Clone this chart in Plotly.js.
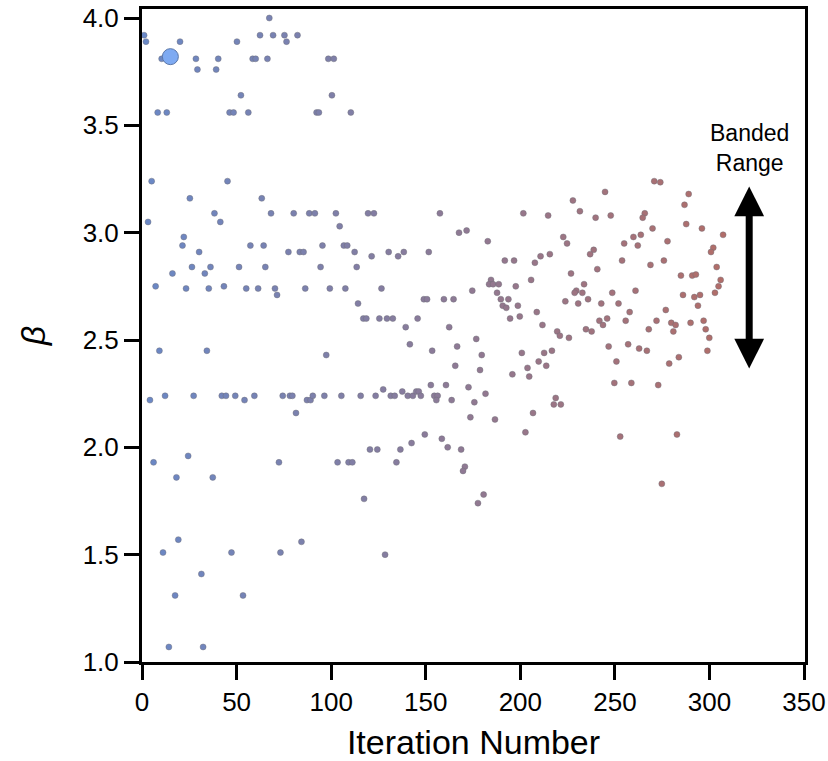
<!DOCTYPE html>
<html>
<head>
<meta charset="utf-8">
<script src="https://cdn.plot.ly/plotly-3.0.1.min.js"></script>
<style>html,body{margin:0;padding:0;background:#fff;}#chart{width:828px;height:761px;}</style>
</head>
<body>
<div id="chart"></div>
<script>
// Iteration number of each sampled point
var iteration = [
 1.1,2.1,10.4,20.1,28.5,29.3,40.3,39.2,50.2,52.3,58.5,60.1,66.3,62.4,67.3,69.3,75.3,76.4,82.2,
 8.3,13.1,46.3,48.4,56.2,5.1,45.2,25.3,63.3,38.3,68.2,80.2,3.2,41.4,22.1,21.4,57.3,64.3,
 98.5,101.4,100.4,92.3,93.5,110.4,88.4,91.4,102.5,119.5,122.6,104.5,157.5,201.6,214.7,227.8,231.5,
 167.6,171.6,182.8,222.7,224.7,95.4,106.7,108.5,
 270.8,274.0,244.8,289.0,286.8,239.8,247.8,265.8,264.7,287.7,296.0,269.9,307.2,259.8,263.7,277.8,
 302.0,254.9,262.1,238.8,300.8,236.9,253.8,268.8,275.9,240.7,303.8,226.8,284.9,290.9,292.8,305.9,
 304.8,302.9,233.7,229.6,228.7,232.8,235.8,223.8,230.6,248.6,260.9,242.8,251.9,286.0,292.0,295.0,
 293.9,276.9,257.8,241.8,245.9,255.7,272.0,279.8,282.1,290.0,296.9,243.7,267.9,280.9,298.0,234.7,
 237.7,225.7,299.9,246.7,257.0,262.8,266.9,298.9,250.8,283.8,278.7,249.7,258.7,272.9,252.8,282.8,274.8,
 121.4,130.4,135.4,138.4,151.6,191.8,196.7,207.7,210.7,215.6,126.6,149.0,150.7,159.6,164.7,174.6,
 184.5,183.5,185.6,188.6,197.6,205.7,187.7,189.7,193.7,190.7,192.6,198.7,208.7,194.6,199.7,211.7,
 219.5,220.9,117.0,118.6,125.5,129.5,132.6,145.7,139.4,162.4,176.7,141.6,153.4,166.6,179.6,165.6,
 178.7,200.8,212.6,216.7,209.7,203.8,213.7,195.8,204.7,
 115.6,123.5,127.5,131.5,133.6,137.6,140.5,143.2,145.0,146.3,147.4,152.7,154.5,156.3,155.6,160.7,
 163.7,172.6,175.7,181.6,173.6,186.6,206.7,202.7,218.7,217.7,221.4,149.5,158.5,161.6,168.7,142.5,
 136.6,120.5,124.4,134.5,170.7,169.7,180.6,177.6,117.4,
 30.2,77.4,83.4,85.4,112.4,26.4,36.2,16.1,33.2,51.3,65.2,94.4,113.5,7.2,23.3,35.3,43.3,55.1,61.4,
 70.3,71.4,86.3,99.3,107.5,114.2,9.2,34.3,97.4,
 4.2,12.2,27.3,42.2,44.4,49.3,54.2,59.4,74.4,78.2,79.5,81.4,87.2,89.1,90.3,96.4,105.4,
 6.1,24.4,18.2,37.4,72.4,103.4,109.2,111.2,
 11.1,19.2,31.4,17.5,47.3,53.4,73.2,84.3,128.5,14.2,32.3
];
// Beta value of each sampled point
var beta = [
 3.92,3.89,3.81,3.89,3.81,3.76,3.81,3.76,3.89,3.64,3.81,3.81,3.81,3.92,4.00,3.92,3.92,3.89,3.92,
 3.56,3.56,3.56,3.56,3.56,3.24,3.24,3.16,3.16,3.09,3.09,3.09,3.05,3.05,2.98,2.94,2.94,2.94,
 3.81,3.81,3.64,3.56,3.56,3.56,3.09,3.09,3.09,3.09,3.09,3.03,3.09,3.09,3.08,3.15,3.10,
 3.00,3.01,2.96,2.98,2.95,2.94,2.94,2.94,
 3.24,3.235,3.19,3.18,3.13,3.07,3.08,3.09,3.07,3.04,3.02,3.02,2.99,2.98,2.99,2.96,
 2.93,2.95,2.94,2.92,2.91,2.90,2.87,2.85,2.87,2.83,2.84,2.81,2.80,2.80,2.805,2.78,
 2.75,2.72,2.76,2.73,2.72,2.72,2.69,2.68,2.67,2.72,2.73,2.67,2.67,2.71,2.70,2.71,
 2.66,2.64,2.63,2.59,2.60,2.59,2.59,2.58,2.57,2.58,2.59,2.57,2.55,2.54,2.55,2.55,
 2.54,2.51,2.51,2.47,2.48,2.46,2.45,2.45,2.40,2.42,2.39,2.30,2.30,2.29,2.05,2.06,1.83,
 2.89,2.91,2.89,2.91,2.91,2.87,2.87,2.86,2.89,2.90,2.74,2.69,2.69,2.69,2.69,2.73,
 2.78,2.76,2.76,2.76,2.75,2.78,2.72,2.69,2.69,2.66,2.65,2.66,2.63,2.60,2.61,2.57,
 2.54,2.52,2.60,2.60,2.60,2.60,2.60,2.60,2.56,2.56,2.505,2.48,2.45,2.47,2.43,2.38,
 2.36,2.44,2.44,2.45,2.40,2.37,2.38,2.34,2.33,
 2.24,2.24,2.27,2.24,2.24,2.26,2.24,2.24,2.26,2.26,2.24,2.29,2.24,2.24,2.22,2.29,
 2.22,2.28,2.21,2.25,2.14,2.13,2.16,2.07,2.23,2.20,2.20,2.06,2.04,2.00,1.99,2.02,
 1.99,1.99,1.99,1.93,1.91,1.89,1.78,1.74,1.76,
 2.91,2.91,2.91,2.91,2.91,2.84,2.84,2.81,2.81,2.84,2.84,2.84,2.84,2.75,2.74,2.74,2.75,2.74,2.74,
 2.74,2.71,2.74,2.74,2.74,2.67,2.45,2.45,2.43,
 2.22,2.24,2.24,2.24,2.24,2.24,2.22,2.24,2.24,2.24,2.24,2.16,2.22,2.22,2.24,2.24,2.24,
 1.93,1.96,1.86,1.86,1.93,1.93,1.93,1.93,
 1.51,1.57,1.41,1.31,1.51,1.31,1.51,1.56,1.50,1.07,1.07
];
// Highlighted starting point
var startIteration = [15];
var startBeta = [3.82];

var xTicks = [0, 50, 100, 150, 200, 250, 300, 350];
var yTicks = [1.0, 1.5, 2.0, 2.5, 3.0, 3.5, 4.0];
var yTickText = ['1.0', '1.5', '2.0', '2.5', '3.0', '3.5', '4.0'];

// Banded range arrow
var bandX = [321];
var bandRange = [2.36, 3.215];

var FONT = 'Liberation Sans, Arial, Helvetica, sans-serif';

var traces = [
  {
    type: 'scatter', mode: 'markers',
    x: iteration, y: beta,
    marker: {
      size: 6,
      color: iteration,
      cmin: 0, cmax: 310,
      colorscale: [[0, '#6a88c6'], [0.45, '#877c9d'], [1, '#b26d68']],
      showscale: false,
      line: {width: 0.8, color: 'rgba(110,110,120,0.55)'}
    },
    hoverinfo: 'x+y'
  },
  {
    type: 'scatter', mode: 'markers',
    x: startIteration, y: startBeta,
    marker: {size: 16, color: '#7eaaf2', line: {width: 1, color: '#5b77a8'}},
    hoverinfo: 'x+y'
  }
];

var layout = {
  width: 828, height: 761,
  margin: {l: 142, r: 23, t: 9, b: 99},
  paper_bgcolor: '#fff', plot_bgcolor: '#fff',
  showlegend: false,
  font: {family: FONT, color: '#000'},
  xaxis: {
    range: [0, 350.5],
    tickvals: xTicks,
    ticks: 'outside', ticklen: 15, tickwidth: 3, tickcolor: '#000',
    showline: true, linewidth: 3, linecolor: '#000', mirror: true,
    showgrid: false, zeroline: false,
    tickfont: {family: FONT, size: 26, color: '#000'},
    title: {text: 'Iteration Number', font: {family: FONT, size: 34, color: '#000'}, standoff: 16}
  },
  yaxis: {
    range: [1.0, 4.042],
    tickvals: yTicks, ticktext: yTickText,
    ticks: 'outside', ticklen: 15, tickwidth: 3, tickcolor: '#000',
    showline: true, linewidth: 3, linecolor: '#000', mirror: true,
    showgrid: false, zeroline: false,
    tickfont: {family: FONT, size: 26, color: '#000'},
    title: {text: '<i>β</i>', font: {family: FONT, size: 34, color: '#000'}, standoff: 27}
  },
  annotations: [
    {
      x: bandX[0], y: 3.395, xref: 'x', yref: 'y',
      text: 'Banded<br>Range', showarrow: false,
      font: {family: FONT, size: 23, color: '#000'}
    },
    {
      x: bandX[0], y: bandRange[1], ax: bandX[0], ay: bandRange[0],
      xref: 'x', yref: 'y', axref: 'x', ayref: 'y',
      text: '', showarrow: true,
      arrowhead: 2, startarrowhead: 2, arrowside: 'end+start',
      arrowsize: 0.85, startarrowsize: 0.85, arrowwidth: 7, arrowcolor: '#000',
      standoff: 0, startstandoff: 0
    }
  ]
};

Plotly.newPlot('chart', traces, layout, {displayModeBar: false, staticPlot: true});
</script>
</body>
</html>
